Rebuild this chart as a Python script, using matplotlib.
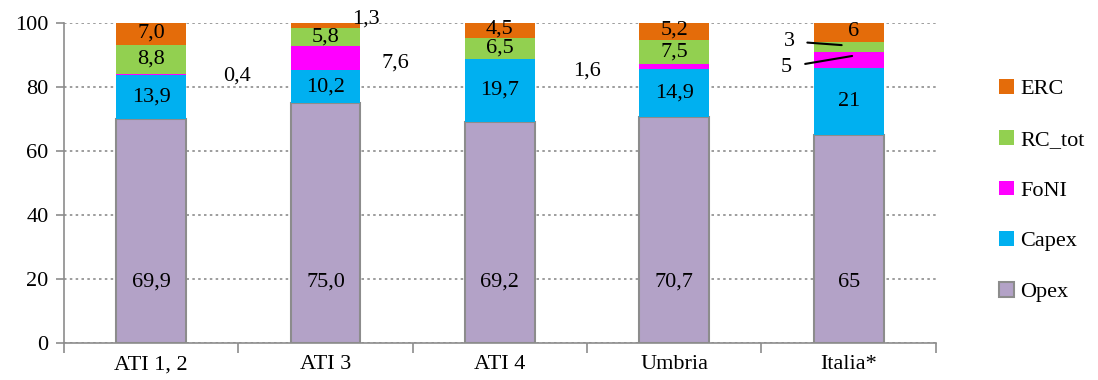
import matplotlib
matplotlib.use("Agg")
import matplotlib.pyplot as plt
from matplotlib.patches import Patch
import numpy as np

plt.rcParams['font.family'] = ['Liberation Serif', 'DejaVu Serif']

categories = ["ATI 1, 2", "ATI 3", "ATI 4", "Umbria", "Italia*"]
opex = [69.9, 75.0, 69.2, 70.7, 65]
capex = [13.9, 10.2, 19.7, 14.9, 21]
foni = [0.4, 7.6, 0.0, 1.6, 5]
rc_tot = [8.8, 5.8, 6.5, 7.5, 3]
erc = [7.0, 1.3, 4.5, 5.2, 6]
decimals = [1, 1, 1, 1, 0]

series = [("Opex", opex, "#B3A2C7"), ("Capex", capex, "#00B0F0"),
          ("FoNI", foni, "#FF00FF"), ("RC_tot", rc_tot, "#92D050"),
          ("ERC", erc, "#E46C0A")]

FS = 16

def fmt(v, d):
    return f"{v:.{d}f}".replace(".", ",")

fig = plt.figure(figsize=(10.98, 3.80), dpi=100)
ax = fig.add_axes([0.0583, 0.0974, 0.794, 0.842])

x = np.arange(len(categories))
w = 0.4
bottom = np.zeros(len(categories))
for name, vals, col in series:
    vals = np.array(vals, dtype=float)
    if name == "Opex":
        ax.bar(x, vals, w, bottom=bottom, color=col, edgecolor="#8C8C8C",
               linewidth=1.5, zorder=3)
    else:
        ax.bar(x, vals, w, bottom=bottom, color=col, linewidth=0, zorder=3)
    for i in range(len(categories)):
        v = vals[i]
        lab = fmt(v, decimals[i])
        mid = bottom[i] + v / 2
        if name == "Opex":
            ax.text(x[i], 19, lab, ha="center", va="center", fontsize=FS, zorder=5)
        elif name == "Capex":
            ax.text(x[i], mid, lab, ha="center", va="center", fontsize=FS, zorder=5)
        elif name == "ERC":
            if i == 1:
                ax.text(x[i] + 0.23, 101.2, lab, ha="center", va="center", fontsize=FS, zorder=5)
            elif i == 4:
                ax.text(x[i] + 0.03, mid + 0.3, lab, ha="center", va="center", fontsize=FS, zorder=5)
            else:
                ax.text(x[i], mid + 0.4, lab, ha="center", va="center", fontsize=FS, zorder=5)
        elif name == "RC_tot":
            if i == 4:
                ax.annotate(lab, xy=(x[i] - 0.04, 93.1), xytext=(x[i] - 0.34, 94.3),
                            ha="center", va="center", fontsize=FS, zorder=5,
                            arrowprops=dict(arrowstyle="-", color="black", lw=1.5,
                                            shrinkA=7, shrinkB=0))
            else:
                ax.text(x[i], mid, lab, ha="center", va="center", fontsize=FS, zorder=5)
        elif name == "FoNI":
            if v == 0:
                continue
            if i == 0:
                ax.text(x[i] + 0.49, 83.4, lab, ha="center", va="center", fontsize=FS, zorder=5)
            elif i == 1:
                ax.text(x[i] + 0.40, 87.5, lab, ha="center", va="center", fontsize=FS, zorder=5)
            elif i == 3:
                ax.text(x[i] - 0.50, 85.0, lab, ha="center", va="center", fontsize=FS, zorder=5)
            elif i == 4:
                ax.annotate(lab, xy=(x[i] + 0.02, 89.7), xytext=(x[i] - 0.36, 86.2),
                            ha="center", va="center", fontsize=FS, zorder=5,
                            arrowprops=dict(arrowstyle="-", color="black", lw=1.5,
                                            shrinkA=8, shrinkB=0))
    bottom += vals

ax.set_xlim(-0.5, len(categories) - 0.5)
ax.set_ylim(0, 100)
ax.set_yticks([0, 20, 40, 60, 80, 100])
ax.set_xticks(x)
ax.set_xticklabels(categories, fontsize=FS)
ax.set_xticks(np.arange(-0.5, len(categories)), minor=True)
ax.tick_params(axis="x", which="major", length=0, pad=9)
ax.tick_params(axis="x", which="minor", length=7, color="#8C8C8C", width=1.2)
ax.tick_params(axis="y", length=6, color="#8C8C8C", width=1.2, labelsize=FS, pad=5)
for s in ["top", "right"]:
    ax.spines[s].set_visible(False)
for s in ["left", "bottom"]:
    ax.spines[s].set_color("#8C8C8C")
    ax.spines[s].set_linewidth(1.2)
ax.yaxis.grid(True, linestyle=(0, (1.5, 2)), color="#8C8C8C", linewidth=1.2, zorder=0)
ax.set_axisbelow(True)

handles = []
for name, vals, col in reversed(series):
    if name == "Opex":
        handles.append(Patch(facecolor=col, edgecolor="#8C8C8C", linewidth=1.5, label=name))
    else:
        handles.append(Patch(facecolor=col, edgecolor="none", label=name))
fig.legend(handles=handles, loc="upper left", bbox_to_anchor=(0.902, 0.815),
           frameon=False, fontsize=FS, handlelength=0.65, handleheight=0.65,
           handletextpad=0.3, labelspacing=1.37, borderaxespad=0)

fig.savefig("out.png", dpi=100)
